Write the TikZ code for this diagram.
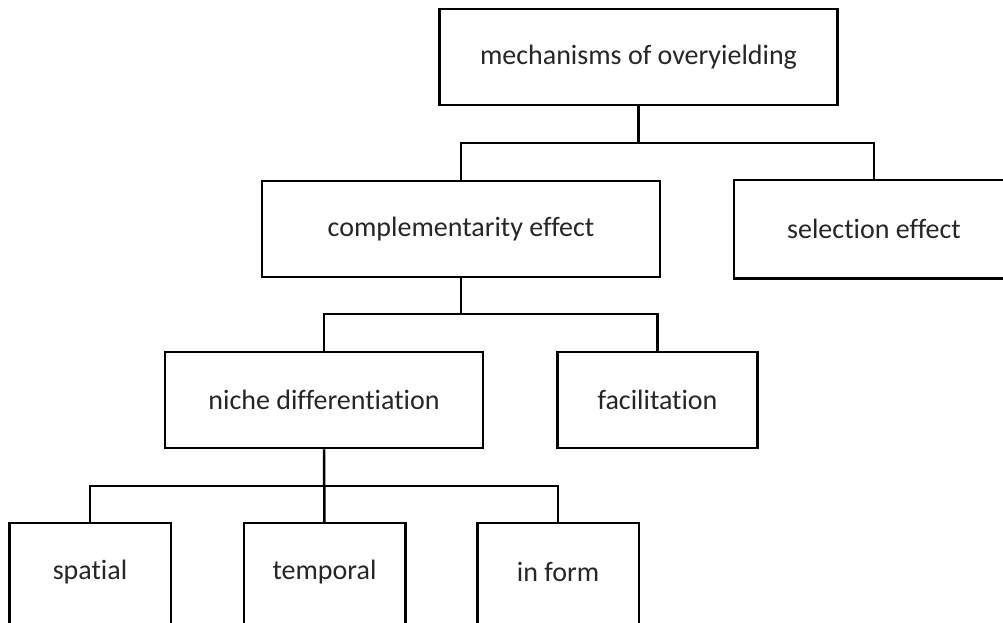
\documentclass[tikz,border=0pt]{standalone}
\usepackage{fontspec}
\setmainfont[Ligatures={NoCommon,NoContextual}]{Carlito}
\begin{document}
\begin{tikzpicture}[x=1pt,y=-1pt,
  box/.style={draw=black,line width=2.5pt,fill=white,rectangle,inner sep=0pt,
    text=black!85,font=\fontsize{28}{32}\selectfont},
  wide/.style={box,minimum width=398pt,minimum height=96pt},
  mid/.style={box,minimum width=318pt,minimum height=96pt},
  small/.style={box,minimum width=200pt,minimum height=96pt},
  leaf/.style={box,draw=none,fill=none,minimum width=159pt,minimum height=96pt},
  open/.style={box,draw=none,fill=none,minimum width=278pt,minimum height=96pt},
  frame/.style={draw=black,line width=2.5pt},
  link/.style={draw=black,line width=2.5pt}]
\useasboundingbox (0,0) rectangle (1003,623);
\clip (0,0) rectangle (1003,623);
\fill[white] (0,0) rectangle (1003,623);
\node[wide] (mech) at (638.5,57) {mechanisms of overyielding};
\node[wide] (comp) at (461,229) {complementarity effect};
\node[open] (sel) at (874,229) {selection effect};
\draw[frame] ([xshift=30pt]sel.south east) -- (sel.south west) -- (sel.north west) -- ([xshift=30pt]sel.north east);
\node[mid] (niche) at (324,400) {niche differentiation};
\node[small] (fac) at (657.5,400) {facilitation};
\node[leaf] (spat) at (90,572) {spatial};
\node[leaf] (temp) at (324.5,572) {temporal};
\node[leaf] (inf) at (558,572) {in form};
\foreach \n in {spat,temp,inf}
  \draw[frame] ([yshift=-40pt]\n.south west) -- (\n.north west) -- (\n.north east) -- ([yshift=-40pt]\n.south east);
\coordinate (j1) at (638.5,143);
\coordinate (j2) at (461,314);
\coordinate (j3) at (324,486);
\draw[link] (mech.south) -- (j1);
\draw[link] (comp.north) |- (j1) -| (sel.north);
\draw[link] (comp.south) -- (j2);
\draw[link] (niche.north) |- (j2) -| (fac.north);
\draw[link] (niche.south) -- (temp.north);
\draw[link] (spat.north) |- (j3) -| (inf.north);
\end{tikzpicture}
\end{document}
